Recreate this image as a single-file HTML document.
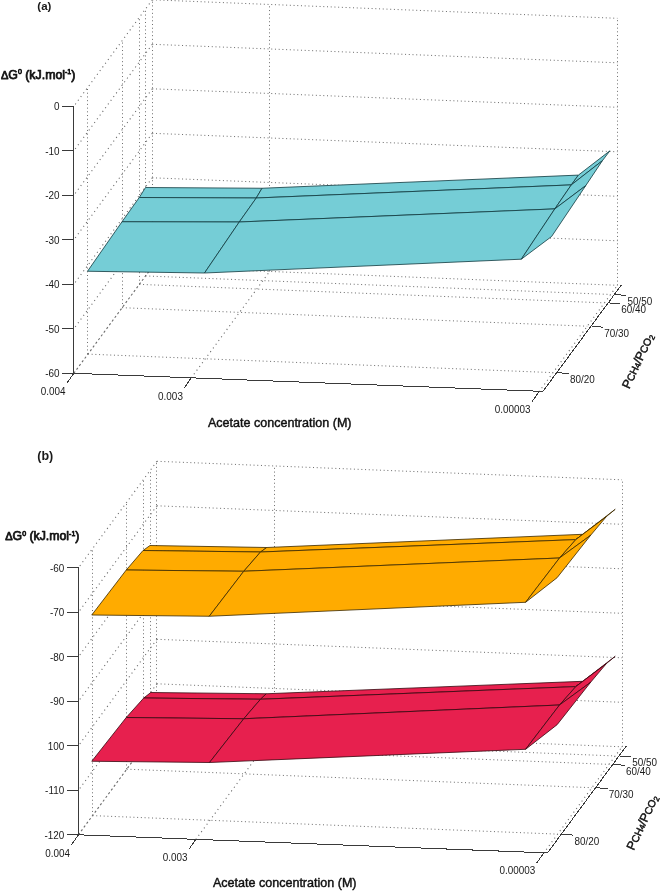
<!DOCTYPE html>
<html><head><meta charset="utf-8"><title>Figure</title>
<style>html,body{margin:0;padding:0;background:#fff;}svg{display:block;will-change:transform;}text{font-family:"Liberation Sans",sans-serif;fill:#1a1a1a;}.sb2{fill:#111;stroke:#111;stroke-width:0.75px;stroke-linejoin:round;}.sb{fill:#111;stroke:#111;stroke-width:0.45px;stroke-linejoin:round;}</style></head><body>
<svg width="660" height="893" viewBox="0 0 660 893">
<rect width="660" height="893" fill="#fff"/>
<path d="M87.93 354.13L553.03 372.63M122.16 307.70L587.26 326.20M139.35 284.37L604.45 302.87M145.55 275.96L610.65 294.46M152.30 266.80L617.40 285.30M152.30 222.30L617.40 240.80M152.30 177.80L617.40 196.30M152.30 133.30L617.40 151.80M152.30 88.80L617.40 107.30M152.30 44.30L617.40 62.80M152.30 -0.20L617.40 18.30" fill="none" stroke="#6c6c6c" stroke-width="1" stroke-dasharray="1 2.72"/>
<path d="M87.50 354.13L87.50 87.13M122.50 307.70L122.50 40.70M139.50 284.37L139.50 17.37M145.50 275.96L145.50 8.96M152.50 266.80L152.50 -0.20M269.50 271.47L269.50 4.47M617.50 285.30L617.50 18.30" fill="none" stroke="#6c6c6c" stroke-width="1" stroke-dasharray="1 2.72"/>
<path d="M191.19 377.97L269.69 271.47M538.90 391.80L617.40 285.30M152.30 222.30L73.80 328.80M152.30 177.80L73.80 284.30M152.30 133.30L73.80 239.80M152.30 88.80L73.80 195.30M152.30 44.30L73.80 150.80M152.30 -0.20L73.80 106.30" fill="none" stroke="#6c6c6c" stroke-width="1.1" stroke-dasharray="1.1 3.5"/>
<path d="M73.80 373.30L152.30 266.80" fill="none" stroke="#6c6c6c" stroke-width="1.1" stroke-dasharray="2.2 2.4"/>
<polygon points="139.25,197.50 256.25,198.00 262.00,188.25 145.50,187.50" fill="#75CDD6" stroke="#10383d" stroke-width="0.8" stroke-linejoin="round"/>
<polygon points="256.25,198.00 571.30,184.90 578.40,175.10 262.00,188.25" fill="#75CDD6" stroke="#10383d" stroke-width="0.8" stroke-linejoin="round"/>
<polygon points="571.30,184.90 602.40,160.70 609.90,150.80 578.40,175.10" fill="#75CDD6" stroke="#10383d" stroke-width="0.8" stroke-linejoin="round"/>
<polygon points="122.00,221.75 239.25,222.00 256.25,198.00 139.25,197.50" fill="#75CDD6" stroke="#10383d" stroke-width="0.8" stroke-linejoin="round"/>
<polygon points="239.25,222.00 554.80,208.90 571.30,184.90 256.25,198.00" fill="#75CDD6" stroke="#10383d" stroke-width="0.8" stroke-linejoin="round"/>
<polygon points="554.80,208.90 585.70,185.70 602.40,160.70 571.30,184.90" fill="#75CDD6" stroke="#10383d" stroke-width="0.8" stroke-linejoin="round"/>
<polygon points="87.50,271.25 204.50,273.00 239.25,222.00 122.00,221.75" fill="#75CDD6" stroke="#10383d" stroke-width="0.8" stroke-linejoin="round"/>
<polygon points="204.50,273.00 521.30,259.20 554.80,208.90 239.25,222.00" fill="#75CDD6" stroke="#10383d" stroke-width="0.8" stroke-linejoin="round"/>
<polygon points="521.30,259.20 551.60,236.50 585.70,185.70 554.80,208.90" fill="#75CDD6" stroke="#10383d" stroke-width="0.8" stroke-linejoin="round"/>
<path d="M73.80 373.80L73.80 105.80M73.80 373.30L542.90 391.40M542.90 391.40L621.60 284.70M62.30 373.30L73.80 373.30M62.30 328.80L73.80 328.80M62.30 284.30L73.80 284.30M62.30 239.80L73.80 239.80M62.30 195.30L73.80 195.30M62.30 150.80L73.80 150.80M62.30 106.30L73.80 106.30M73.80 373.30L67.00 383.10M191.19 377.97L184.39 387.77M538.90 391.80L532.10 401.60M557.33 372.63L568.83 373.63M591.56 326.20L603.06 327.20M608.75 302.87L620.25 303.87M614.95 294.46L626.45 295.46" fill="none" stroke="#3a3a3a" stroke-width="1" shape-rendering="crispEdges"/>
<text transform="translate(59.60 377.00) scale(0.885 1)" text-anchor="end" font-size="11.2">-60</text>
<text transform="translate(59.60 332.50) scale(0.885 1)" text-anchor="end" font-size="11.2">-50</text>
<text transform="translate(59.60 288.00) scale(0.885 1)" text-anchor="end" font-size="11.2">-40</text>
<text transform="translate(59.60 243.50) scale(0.885 1)" text-anchor="end" font-size="11.2">-30</text>
<text transform="translate(59.60 199.00) scale(0.885 1)" text-anchor="end" font-size="11.2">-20</text>
<text transform="translate(59.60 154.50) scale(0.885 1)" text-anchor="end" font-size="11.2">-10</text>
<text transform="translate(59.60 110.00) scale(0.885 1)" text-anchor="end" font-size="11.2">0</text>
<text transform="translate(65.50 395.00) scale(0.885 1)" text-anchor="end" font-size="11.2">0.004</text>
<text transform="translate(182.89 399.67) scale(0.885 1)" text-anchor="end" font-size="11.2">0.003</text>
<text transform="translate(530.60 412.50) scale(0.885 1)" text-anchor="end" font-size="11.2">0.00003</text>
<text transform="translate(569.93 383.13) scale(0.885 1)" text-anchor="start" font-size="11.2">80/20</text>
<text transform="translate(604.16 336.70) scale(0.885 1)" text-anchor="start" font-size="11.2">70/30</text>
<text transform="translate(621.35 313.37) scale(0.885 1)" text-anchor="start" font-size="11.2">60/40</text>
<text transform="translate(627.55 304.96) scale(0.885 1)" text-anchor="start" font-size="11.2">50/50</text>
<text x="37.30" y="9.70" font-size="11.5" font-weight="bold" fill="#111">(a)</text>
<text x="0.90" y="78.80" font-size="12.35" class="sb2"><tspan font-size="11.115">Δ</tspan>G<tspan font-size="7" dy="-4.5">0</tspan><tspan dy="4.5"> (kJ.mol</tspan><tspan font-size="7" dy="-4.5">-1</tspan><tspan dy="4.5">)</tspan></text>
<text x="207.90" y="426.50" font-size="12.55" class="sb">Acetate concentration (M)</text>
<text transform="translate(629.20 389.50) rotate(-65.2)" font-size="12.4" class="sb">P<tspan font-size="10.3">CH</tspan><tspan font-size="7.8" dy="0">4</tspan><tspan font-size="12.4">/P</tspan><tspan font-size="10.3">CO</tspan><tspan font-size="7.8" dy="1.5">2</tspan></text>
<path d="M92.53 815.63L557.63 834.13M126.76 769.20L591.86 787.70M143.95 745.87L609.05 764.37M150.15 737.46L615.25 755.96M156.90 728.30L622.00 746.80M156.90 683.80L622.00 702.30M156.90 639.30L622.00 657.80M156.90 594.80L622.00 613.30M156.90 550.30L622.00 568.80M156.90 505.80L622.00 524.30M156.90 461.30L622.00 479.80" fill="none" stroke="#6c6c6c" stroke-width="1" stroke-dasharray="1 2.72"/>
<path d="M92.50 815.63L92.50 548.63M126.50 769.20L126.50 502.20M143.50 745.87L143.50 478.87M150.50 737.46L150.50 470.46M156.50 728.30L156.50 461.30M274.50 732.97L274.50 465.97M622.50 746.80L622.50 479.80" fill="none" stroke="#6c6c6c" stroke-width="1" stroke-dasharray="1 2.72"/>
<path d="M195.79 839.47L274.29 732.97M543.50 853.30L622.00 746.80M156.90 683.80L78.40 790.30M156.90 639.30L78.40 745.80M156.90 594.80L78.40 701.30M156.90 550.30L78.40 656.80M156.90 505.80L78.40 612.30M156.90 461.30L78.40 567.80" fill="none" stroke="#6c6c6c" stroke-width="1.1" stroke-dasharray="1.1 3.5"/>
<path d="M78.40 834.80L156.90 728.30" fill="none" stroke="#6c6c6c" stroke-width="1.1" stroke-dasharray="2.2 2.4"/>
<polygon points="143.75,698.00 260.50,699.25 266.25,693.75 150.75,692.50" fill="#E7204E" stroke="#35070f" stroke-width="0.8" stroke-linejoin="round"/>
<polygon points="260.50,699.25 575.80,686.60 582.70,681.30 266.25,693.75" fill="#E7204E" stroke="#35070f" stroke-width="0.8" stroke-linejoin="round"/>
<polygon points="575.80,686.60 606.40,663.60 615.20,656.30 582.70,681.30" fill="#E7204E" stroke="#35070f" stroke-width="0.8" stroke-linejoin="round"/>
<polygon points="126.25,717.50 243.75,718.75 260.50,699.25 143.75,698.00" fill="#E7204E" stroke="#35070f" stroke-width="0.8" stroke-linejoin="round"/>
<polygon points="243.75,718.75 559.50,705.00 575.80,686.60 260.50,699.25" fill="#E7204E" stroke="#35070f" stroke-width="0.8" stroke-linejoin="round"/>
<polygon points="559.50,705.00 590.60,682.30 606.40,663.60 575.80,686.60" fill="#E7204E" stroke="#35070f" stroke-width="0.8" stroke-linejoin="round"/>
<polygon points="91.75,761.25 209.50,762.50 243.75,718.75 126.25,717.50" fill="#E7204E" stroke="#35070f" stroke-width="0.8" stroke-linejoin="round"/>
<polygon points="209.50,762.50 525.60,749.30 559.50,705.00 243.75,718.75" fill="#E7204E" stroke="#35070f" stroke-width="0.8" stroke-linejoin="round"/>
<polygon points="525.60,749.30 557.10,724.70 590.60,682.30 559.50,705.00" fill="#E7204E" stroke="#35070f" stroke-width="0.8" stroke-linejoin="round"/>
<polygon points="143.00,550.50 260.50,552.00 266.75,547.50 150.00,545.50" fill="#FFAB00" stroke="#3a2800" stroke-width="0.8" stroke-linejoin="round"/>
<polygon points="260.50,552.00 575.80,539.60 582.70,534.30 266.75,547.50" fill="#FFAB00" stroke="#3a2800" stroke-width="0.8" stroke-linejoin="round"/>
<polygon points="575.80,539.60 606.40,516.60 615.20,509.30 582.70,534.30" fill="#FFAB00" stroke="#3a2800" stroke-width="0.8" stroke-linejoin="round"/>
<polygon points="126.25,570.00 243.75,571.25 260.50,552.00 143.00,550.50" fill="#FFAB00" stroke="#3a2800" stroke-width="0.8" stroke-linejoin="round"/>
<polygon points="243.75,571.25 559.50,558.00 575.80,539.60 260.50,552.00" fill="#FFAB00" stroke="#3a2800" stroke-width="0.8" stroke-linejoin="round"/>
<polygon points="559.50,558.00 590.60,535.30 606.40,516.60 575.80,539.60" fill="#FFAB00" stroke="#3a2800" stroke-width="0.8" stroke-linejoin="round"/>
<polygon points="91.75,615.00 209.25,616.25 243.75,571.25 126.25,570.00" fill="#FFAB00" stroke="#3a2800" stroke-width="0.8" stroke-linejoin="round"/>
<polygon points="209.25,616.25 525.60,602.30 559.50,558.00 243.75,571.25" fill="#FFAB00" stroke="#3a2800" stroke-width="0.8" stroke-linejoin="round"/>
<polygon points="525.60,602.30 557.10,577.70 590.60,535.30 559.50,558.00" fill="#FFAB00" stroke="#3a2800" stroke-width="0.8" stroke-linejoin="round"/>
<path d="M78.40 835.30L78.40 567.30M78.40 834.80L547.50 852.90M547.50 852.90L626.20 746.20M66.90 834.80L78.40 834.80M66.90 790.30L78.40 790.30M66.90 745.80L78.40 745.80M66.90 701.30L78.40 701.30M66.90 656.80L78.40 656.80M66.90 612.30L78.40 612.30M66.90 567.80L78.40 567.80M78.40 834.80L71.60 844.60M195.79 839.47L188.99 849.27M543.50 853.30L536.70 863.10M561.93 834.13L573.43 835.13M596.16 787.70L607.66 788.70M613.35 764.37L624.85 765.37M619.55 755.96L631.05 756.96" fill="none" stroke="#3a3a3a" stroke-width="1" shape-rendering="crispEdges"/>
<text transform="translate(64.20 838.50) scale(0.885 1)" text-anchor="end" font-size="11.2">-120</text>
<text transform="translate(64.20 794.00) scale(0.885 1)" text-anchor="end" font-size="11.2">-110</text>
<text transform="translate(64.20 749.50) scale(0.885 1)" text-anchor="end" font-size="11.2">100</text>
<text transform="translate(64.20 705.00) scale(0.885 1)" text-anchor="end" font-size="11.2">-90</text>
<text transform="translate(64.20 660.50) scale(0.885 1)" text-anchor="end" font-size="11.2">-80</text>
<text transform="translate(64.20 616.00) scale(0.885 1)" text-anchor="end" font-size="11.2">-70</text>
<text transform="translate(64.20 571.50) scale(0.885 1)" text-anchor="end" font-size="11.2">-60</text>
<text transform="translate(70.10 856.50) scale(0.885 1)" text-anchor="end" font-size="11.2">0.004</text>
<text transform="translate(187.49 861.17) scale(0.885 1)" text-anchor="end" font-size="11.2">0.003</text>
<text transform="translate(535.20 874.00) scale(0.885 1)" text-anchor="end" font-size="11.2">0.00003</text>
<text transform="translate(574.53 844.63) scale(0.885 1)" text-anchor="start" font-size="11.2">80/20</text>
<text transform="translate(608.76 798.20) scale(0.885 1)" text-anchor="start" font-size="11.2">70/30</text>
<text transform="translate(625.95 774.87) scale(0.885 1)" text-anchor="start" font-size="11.2">60/40</text>
<text transform="translate(632.15 766.46) scale(0.885 1)" text-anchor="start" font-size="11.2">50/50</text>
<text x="37.30" y="460.20" font-size="12.5" font-weight="bold" fill="#111">(b)</text>
<text x="5.20" y="540.30" font-size="12.3" class="sb2"><tspan font-size="11.07">Δ</tspan>G<tspan font-size="7" dy="-4.5">0</tspan><tspan dy="4.5"> (kJ.mol</tspan><tspan font-size="7" dy="-4.5">-1</tspan><tspan dy="4.5">)</tspan></text>
<text x="212.90" y="887.30" font-size="12.55" class="sb">Acetate concentration (M)</text>
<text transform="translate(633.80 851.00) rotate(-65.2)" font-size="12.4" class="sb">P<tspan font-size="10.3">CH</tspan><tspan font-size="7.8" dy="0">4</tspan><tspan font-size="12.4">/P</tspan><tspan font-size="10.3">CO</tspan><tspan font-size="7.8" dy="1.5">2</tspan></text>
</svg></body></html>
